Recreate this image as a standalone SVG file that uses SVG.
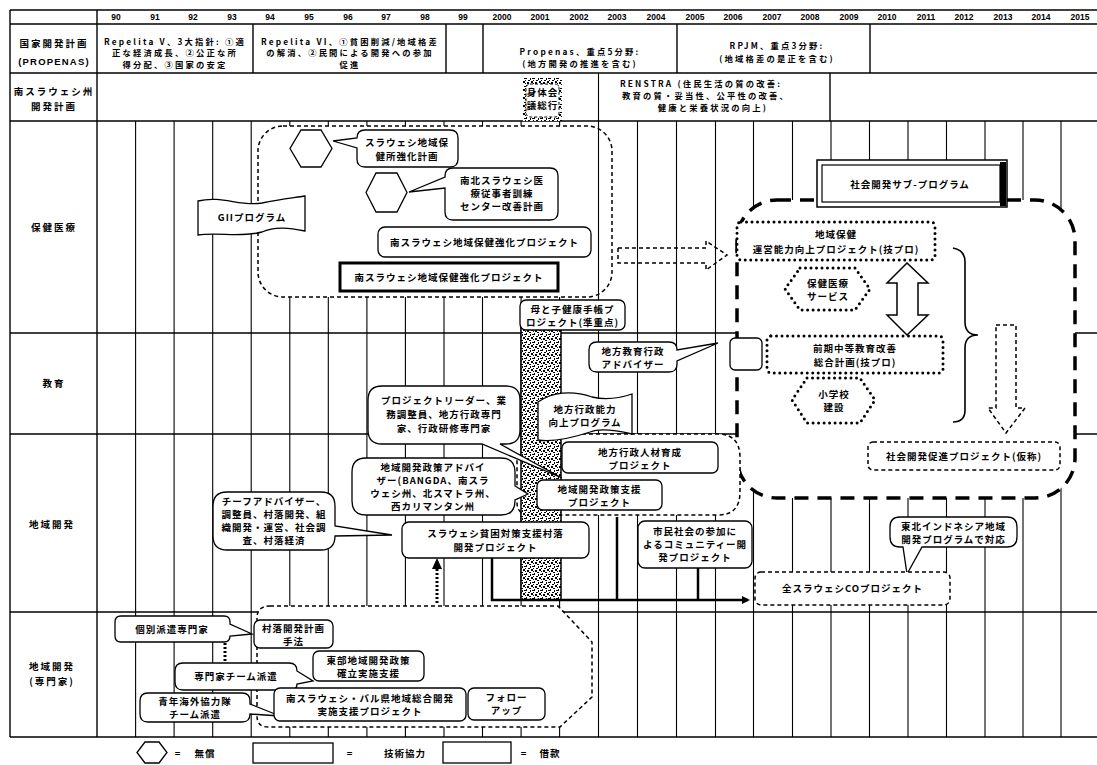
<svg xmlns="http://www.w3.org/2000/svg" width="1097" height="765" viewBox="0 0 1097 765">
<defs>
<style>
.t{font-family:"Noto Sans CJK JP","Noto Sans CJK SC",sans-serif;font-weight:700;font-size:9.5px;letter-spacing:1px;text-anchor:middle;fill:#000}
.p{font-family:"Noto Sans CJK JP","Noto Sans CJK SC",sans-serif;font-weight:700;font-size:8.3px;letter-spacing:2.2px;text-anchor:middle;fill:#000}
.lbl{font-family:"Noto Sans CJK JP",sans-serif;font-weight:700;font-size:9.5px;letter-spacing:2px;text-anchor:middle;fill:#000}
.yr{font-family:"Liberation Sans",Arial,sans-serif;font-weight:700;font-size:8.5px;text-anchor:middle;fill:#000}
.tl{stroke:#000;stroke-width:1.4;fill:none}
.grid{stroke:#000;stroke-width:1.1;fill:none}
.box{fill:#fff;stroke:#000;stroke-width:1.3}
.thick{fill:#fff;stroke:#000;stroke-width:3}
.dash{fill:#fff;stroke:#000;stroke-width:1.5;stroke-dasharray:4 3}
.dashn{fill:none;stroke:#000;stroke-width:1.5;stroke-dasharray:4 3}
.dot{fill:#fff;stroke:#000;stroke-width:3;stroke-dasharray:0 5.5;stroke-linecap:round}
.big{fill:#fff;stroke:#000;stroke-width:3.5;stroke-dasharray:14 9}
</style>
<pattern id="noise" width="8" height="8" patternUnits="userSpaceOnUse">
<rect width="8" height="8" fill="#fff"/>
<rect x="0" y="0" width="2" height="1" fill="#000"/>
<rect x="3" y="1" width="2" height="2" fill="#000"/>
<rect x="1" y="4" width="2" height="1" fill="#000"/>
<rect x="6" y="5" width="1" height="2" fill="#000"/>
<rect x="5" y="0" width="1" height="1" fill="#000"/>
<rect x="0" y="2" width="1" height="2" fill="#000"/>
<rect x="4" y="6" width="2" height="1" fill="#000"/>
<rect x="7" y="2" width="1" height="2" fill="#000"/>
<rect x="2" y="6" width="1" height="2" fill="#000"/>
<rect x="5" y="3" width="1" height="1" fill="#000"/>
</pattern>
<marker id="ah" markerWidth="8" markerHeight="8" refX="6" refY="4" orient="auto" markerUnits="userSpaceOnUse">
<path d="M0,0 L8,4 L0,8 Z" fill="#000"/>
</marker>
</defs>
<rect width="1097" height="765" fill="#fff"/>

<g id="table">
<line class="tl" x1="10" y1="10" x2="1097" y2="10" stroke-width="2"/>
<line class="tl" x1="10" y1="24" x2="1097" y2="24"/>
<line class="tl" x1="10" y1="73" x2="1097" y2="73"/>
<line class="tl" x1="10" y1="121" x2="1097" y2="121"/>
<line class="tl" x1="10" y1="333" x2="1097" y2="333"/>
<line class="tl" x1="10" y1="434" x2="1097" y2="434"/>
<line class="tl" x1="10" y1="612" x2="1097" y2="612"/>
<line class="tl" x1="10" y1="737" x2="1097" y2="737" stroke-width="2.5"/>
<line class="tl" x1="10" y1="10" x2="10" y2="737" stroke-width="1.8"/>
<line class="tl" x1="97" y1="10" x2="97" y2="737" stroke-width="1.8"/>
<line class="tl" x1="253" y1="24" x2="253" y2="73"/>
<line class="tl" x1="446" y1="24" x2="446" y2="73"/>
<line class="tl" x1="483" y1="24" x2="483" y2="73"/>
<line class="tl" x1="677" y1="24" x2="677" y2="73"/>
<line class="tl" x1="870" y1="24" x2="870" y2="73"/>
<line class="tl" x1="830" y1="73" x2="830" y2="121"/>
<g class="grid">
<line x1="135.6" y1="121" x2="135.6" y2="737"/><line x1="174.1" y1="121" x2="174.1" y2="737"/>
<line x1="212.7" y1="121" x2="212.7" y2="737"/><line x1="251.2" y1="121" x2="251.2" y2="737"/>
<line x1="289.8" y1="121" x2="289.8" y2="737"/><line x1="328.3" y1="121" x2="328.3" y2="737"/>
<line x1="366.9" y1="121" x2="366.9" y2="737"/><line x1="405.4" y1="121" x2="405.4" y2="737"/>
<line x1="444" y1="121" x2="444" y2="737"/><line x1="482.5" y1="121" x2="482.5" y2="737"/>
<line x1="521.1" y1="121" x2="521.1" y2="737"/><line x1="559.6" y1="121" x2="559.6" y2="737"/>
<line x1="598.5" y1="73" x2="598.5" y2="737"/><line x1="637.5" y1="121" x2="637.5" y2="737"/>
<line x1="676.5" y1="121" x2="676.5" y2="737"/><line x1="715.5" y1="121" x2="715.5" y2="737"/>
<line x1="753.5" y1="121" x2="753.5" y2="737"/><line x1="792.5" y1="121" x2="792.5" y2="737"/>
<line x1="831" y1="121" x2="831" y2="737"/><line x1="869.5" y1="121" x2="869.5" y2="737"/>
<line x1="908" y1="121" x2="908" y2="737"/><line x1="946.5" y1="121" x2="946.5" y2="737"/>
<line x1="985" y1="121" x2="985" y2="737"/><line x1="1023" y1="121" x2="1023" y2="737"/>
<line x1="1061" y1="121" x2="1061" y2="737"/>
</g>
<g class="yr">
<text x="116" y="20">90</text><text x="155" y="20">91</text><text x="193" y="20">92</text><text x="232" y="20">93</text>
<text x="270" y="20">94</text><text x="309" y="20">95</text><text x="348" y="20">96</text><text x="386" y="20">97</text>
<text x="425" y="20">98</text><text x="463" y="20">99</text><text x="502" y="20">2000</text><text x="540" y="20">2001</text>
<text x="579" y="20">2002</text><text x="617" y="20">2003</text><text x="656" y="20">2004</text><text x="695" y="20">2005</text>
<text x="733" y="20">2006</text><text x="772" y="20">2007</text><text x="810" y="20">2008</text><text x="849" y="20">2009</text>
<text x="887" y="20">2010</text><text x="926" y="20">2011</text><text x="964" y="20">2012</text><text x="1003" y="20">2013</text>
<text x="1041" y="20">2014</text><text x="1080" y="20">2015</text>
</g>
<text class="lbl"><tspan x="54" y="47">国家開発計画</tspan><tspan x="54" y="65" font-family="Liberation Sans,sans-serif" letter-spacing="1.2">(PROPENAS)</tspan></text>
<text class="lbl"><tspan x="54" y="95">南スラウェシ州</tspan><tspan x="54" y="110">開発計画</tspan></text>
<text class="lbl" x="54" y="231">保健医療</text>
<text class="lbl" x="54" y="387">教育</text>
<text class="lbl" x="52" y="528">地域開発</text>
<text class="lbl"><tspan x="52" y="670">地域開発</tspan><tspan x="52" y="685">(専門家)</tspan></text>
</g>

<g id="plan-texts">
<text class="p"><tspan x="175" y="44.5">Repelita V、3大指針: ①適</tspan><tspan x="175" y="56">正な経済成長、②公正な所</tspan><tspan x="175" y="67.5">得分配、③国家の安定</tspan></text>
<text class="p" letter-spacing="1.4"><tspan x="350" y="44.5">Repelita VI、①貧困削減/地域格差</tspan><tspan x="350" y="56">の解消、②民間による開発への参加</tspan><tspan x="350" y="67.5">促進</tspan></text>
<text class="p" font-size="9" letter-spacing="1.5"><tspan x="580" y="54.5">Propenas、重点5分野:</tspan><tspan x="580" y="67">(地方開発の推進を含む)</tspan></text>
<text class="p" font-size="9" letter-spacing="1.5"><tspan x="777" y="49">RPJM、重点3分野:</tspan><tspan x="777" y="61.5">(地域格差の是正を含む)</tspan></text>
<text class="p" font-size="8.5" letter-spacing="1.2"><tspan x="701" y="87">RENSTRA (住民生活の質の改善:</tspan><tspan x="706" y="99">教育の質・妥当性、公平性の改善、</tspan><tspan x="713" y="111">健康と栄養状況の向上)</tspan></text>
</g>

<g id="regions">
<rect id="gii-area" class="dash" x="258" y="126" width="354" height="171" rx="25"/>
<line class="grid" x1="598.5" y1="126" x2="598.5" y2="297"/>
<rect id="social-area" class="big" x="737" y="200" width="338" height="298" rx="40"/>
<path id="admin-area" class="dash" d="M575,434 H718 Q740,434 740,458 V492 Q740,515 718,515 H530 Q517,515 517,502 V460"/>
<path id="expert-area" class="dash" d="M270,606 H558 L592,642 V697 L560,727 H268 Q257,727 257,716 V618 Q257,606 270,606 Z"/>
</g>

<g id="strip">
<rect x="521" y="327" width="40" height="273" fill="url(#noise)" stroke="#000" stroke-width="1.5"/>
<rect x="523" y="78" width="39" height="43" fill="url(#noise)"/>
<rect x="526" y="84" width="33" height="33" rx="4" fill="#fff" stroke="#000" stroke-width="1" stroke-dasharray="3 2"/>
<text class="t" font-size="6.5" letter-spacing="0"><tspan x="542.5" y="96">身体会</tspan><tspan x="542.5" y="109">議総行</tspan></text>
</g>

<g id="connectors">
<path class="dashn" d="M618,248 H706 V241 L727,255 L706,270 V263 H618 Z"/>
<path d="M492,558 V600 H748" fill="none" stroke="#000" stroke-width="2.5" marker-end="url(#ah)"/>
<line x1="617" y1="517" x2="617" y2="600" stroke="#000" stroke-width="2.5"/>
<line x1="698" y1="567" x2="698" y2="600" stroke="#000" stroke-width="2.5"/>
<line x1="437" y1="603" x2="437" y2="568" stroke="#000" stroke-width="3" stroke-dasharray="2 2"/>
<path d="M432,569 L437,558 L442,569 Z" fill="#000"/>
<line x1="225" y1="643" x2="225" y2="662" stroke="#000" stroke-width="3" stroke-dasharray="2 2"/>
<path d="M907,263 L928,283 H918 V315 H928 L907,335 L887,315 H897 V283 H887 Z" fill="#fff" stroke="#000" stroke-width="1.5"/>
<path d="M953,248 Q965,250 965,262 V322 Q965,335 978,335 Q965,335 965,348 V410 Q965,422 953,422" fill="none" stroke="#000" stroke-width="1.6"/>
<path class="dashn" d="M996,325 H1016 V408 H1025 L1006,433 L988,408 H996 Z"/>
</g>

<g id="n-hex1"><polygon class="box" points="301,130 321,130 332,148.5 321,167 301,167 290,148.5"/></g>
<g id="n-hex2"><polygon class="box" points="376,173 397,173 407,192.5 397,212 376,212 366,192.5"/></g>
<g id="n-c1">
<path class="box" d="M365,130 H450 Q458,130 458,138 V159 Q458,167 450,167 H365 Q357,167 357,159 V148 L333,141 L357,138 Q357,130 365,130 Z"/>
<text class="t"><tspan x="407" y="146">スラウェシ地域保</tspan><tspan x="407" y="160">健所強化計画</tspan></text>
</g>
<g id="n-c2">
<path class="box" d="M453,168 H550 Q558,168 558,176 V212 Q558,220 550,220 H453 Q445,220 445,212 V188 L409,192 L445,177 V176 Q445,168 453,168 Z"/>
<text class="t"><tspan x="502" y="184">南北スラウェシ医</tspan><tspan x="502" y="197">療従事者訓練</tspan><tspan x="502" y="210">センター改善計画</tspan></text>
</g>
<g id="n-gii">
<path class="box" d="M198,201 C222,195 240,207 262,203 C280,199 292,198 305,196 L305,231 C290,228 275,226 262,232 C240,238 220,232 198,235 Z"/>
<text class="t" font-size="10.5" x="252" y="221">GIIプログラム</text>
</g>
<g id="n-hp1">
<rect class="box" x="378" y="227" width="213" height="30" rx="7"/>
<text class="t" x="484.5" y="246">南スラウェシ地域保健強化プロジェクト</text>
</g>
<g id="n-hp2">
<rect class="thick" x="340" y="263" width="218" height="28"/>
<text class="t" x="449" y="281">南スラウェシ地域保健強化プロジェクト</text>
</g>
<g id="n-mch">
<rect class="box" x="520" y="300" width="105" height="30" rx="6"/>
<text class="t" font-size="9" letter-spacing="0.5"><tspan x="572.5" y="313">母と子健康手帳プ</tspan><tspan x="572.5" y="326">ロジェクト(準重点)</tspan></text>
</g>

<g id="n-title">
<rect x="817" y="160" width="190" height="47" fill="#fff" stroke="#000" stroke-width="1.5"/>
<rect x="822" y="165" width="178" height="37" fill="#fff" stroke="#000" stroke-width="1.2"/>
<rect x="1000" y="162" width="6" height="44" fill="#000"/>
<text class="t" font-size="12.5" x="910" y="188">社会開発サブ-プログラム</text>
</g>
<g id="n-chp">
<rect class="dot" x="737" y="222" width="198" height="38" rx="4"/>
<text class="t"><tspan x="836" y="238">地域保健</tspan><tspan x="836" y="253">運営能力向上プロジェクト(技プロ)</tspan></text>
</g>
<g id="n-hs">
<polygon class="dot" points="800,268 855,268 870,289 855,310 800,310 785,289"/>
<text class="t"><tspan x="828" y="287">保健医療</tspan><tspan x="828" y="300">サービス</tspan></text>
</g>
<g id="n-sec">
<rect class="dot" x="767" y="336" width="176" height="37" rx="4"/>
<text class="t"><tspan x="855" y="352">前期中等教育改善</tspan><tspan x="855" y="366">総合計画(技プロ)</tspan></text>
</g>
<g id="n-smallbox"><rect class="box" x="730" y="338" width="32" height="32" rx="5"/></g>
<g id="n-ps">
<polygon class="dot" points="807,378 860,378 875,400 860,423 807,423 792,400"/>
<text class="t"><tspan x="834" y="398">小学校</tspan><tspan x="834" y="411">建設</tspan></text>
</g>
<g id="n-sdp">
<rect class="dash" x="868" y="442" width="192" height="28" rx="5"/>
<text class="t" x="964" y="460">社会開発促進プロジェクト(仮称)</text>
</g>

<g id="n-c3">
<path class="box" d="M597,342 H669 Q677,342 677,350 L718,343 L677,361 V364 Q677,372 669,372 H597 Q589,372 589,364 V350 Q589,342 597,342 Z"/>
<text class="t"><tspan x="633" y="355">地方教育行政</tspan><tspan x="633" y="368">アドバイザー</tspan></text>
</g>
<g id="n-flag2">
<path class="box" d="M538,402 C552,392 572,390 592,397 C605,400 620,398 632,394 L632,434 C615,430 600,428 590,432 C572,438 552,442 538,440 Z"/>
<text class="t"><tspan x="585" y="413">地方行政能力</tspan><tspan x="585" y="426">向上プログラム</tspan></text>
</g>
<g id="n-hr">
<rect class="box" x="562" y="442" width="156" height="31" rx="6"/>
<text class="t"><tspan x="640" y="456">地方行政人材育成</tspan><tspan x="640" y="469">プロジェクト</tspan></text>
</g>
<g id="n-rdp">
<rect class="box" x="537" y="480" width="125" height="30" rx="6"/>
<text class="t"><tspan x="599.5" y="493">地域開発政策支援</tspan><tspan x="599.5" y="506">プロジェクト</tspan></text>
</g>
<g id="n-c5">
<path class="box" d="M366,458 H501 Q515,458 515,472 V486 L528,494 L515,500 V501 Q515,515 501,515 H366 Q352,515 352,501 V472 Q352,458 366,458 Z"/>
<text class="t"><tspan x="433" y="471">地域開発政策アドバイ</tspan><tspan x="433" y="484">ザー(BANGDA、南スラ</tspan><tspan x="433" y="497">ウェシ州、北スマトラ州、</tspan><tspan x="433" y="510">西カリマンタン州</tspan></text>
</g>
<g id="n-c4">
<path class="box" d="M382,386 H506 Q520,386 520,400 V430 Q520,444 506,444 H500 L562,478 L482,444 H382 Q368,444 368,430 V400 Q368,386 382,386 Z"/>
<text class="t"><tspan x="444" y="404">プロジェクトリーダー、業</tspan><tspan x="444" y="418">務調整員、地方行政専門</tspan><tspan x="444" y="432">家、行政研修専門家</tspan></text>
</g>
<g id="n-c6">
<path class="box" d="M227,492 H321 Q335,492 335,506 V526 L392,535 L335,536 Q335,550 321,550 H227 Q213,550 213,536 V506 Q213,492 227,492 Z"/>
<text class="t"><tspan x="274" y="505">チーフアドバイザー、</tspan><tspan x="274" y="518">調整員、村落開発、組</tspan><tspan x="274" y="531">織開発・運営、社会調</tspan><tspan x="274" y="544">査、村落経済</tspan></text>
</g>
<g id="n-svd">
<rect class="box" x="402" y="522" width="187" height="36" rx="7"/>
<text class="t"><tspan x="495.5" y="537">スラウェシ貧困対策支援村落</tspan><tspan x="495.5" y="551">開発プロジェクト</tspan></text>
</g>
<g id="n-cdp">
<rect class="box" x="638" y="521" width="114" height="47" rx="7"/>
<text class="t"><tspan x="695" y="535">市民社会の参加に</tspan><tspan x="695" y="548">よるコミュニティー開</tspan><tspan x="695" y="561">発プロジェクト</tspan></text>
</g>
<g id="n-c7">
<path class="box" d="M900,517 H1007 Q1017,517 1017,527 V537 Q1017,547 1007,547 H922 L907,574 L903,547 H900 Q890,547 890,537 V527 Q890,517 900,517 Z"/>
<text class="t"><tspan x="953.5" y="530">東北インドネシア地域</tspan><tspan x="953.5" y="543">開発プログラムで対応</tspan></text>
</g>
<g id="n-co">
<rect class="dash" x="755" y="572" width="195" height="33" rx="6"/>
<text class="t" x="852.5" y="592">全スラウェシCOプロジェクト</text>
</g>

<g id="n-c8">
<path class="box" d="M121,616 H224 Q230,616 230,622 V624 L252,634 L230,636 Q230,642 224,642 H121 Q115,642 115,636 V622 Q115,616 121,616 Z"/>
<text class="t" x="172" y="633">個別派遣専門家</text>
</g>
<g id="n-vdm">
<rect class="box" x="254" y="620" width="79" height="28" rx="6"/>
<text class="t"><tspan x="293.5" y="632">村落開発計画</tspan><tspan x="293.5" y="645">手法</tspan></text>
</g>
<g id="n-c9">
<path class="box" d="M183,663 H289 Q297,663 297,671 L313,681 L297,684 Q297,690 291,690 H183 Q175,690 175,682 V671 Q175,663 183,663 Z"/>
<text class="t" x="236" y="680">専門家チーム派遣</text>
</g>
<g id="n-erd">
<rect class="box" x="313" y="651" width="111" height="30" rx="6"/>
<text class="t"><tspan x="368.5" y="664">東部地域開発政策</tspan><tspan x="368.5" y="677">確立実施支援</tspan></text>
</g>
<g id="n-c10">
<path class="box" d="M148,693 H242 Q250,693 250,701 V704 L280,716 L250,714 Q250,722 242,722 H148 Q140,722 140,714 V701 Q140,693 148,693 Z"/>
<text class="t"><tspan x="195" y="705">青年海外協力隊</tspan><tspan x="195" y="718">チーム派遣</tspan></text>
</g>
<g id="n-barru">
<rect class="box" x="274" y="688" width="192" height="33" rx="6"/>
<text class="t"><tspan x="370" y="702">南スラウェシ・バル県地域総合開発</tspan><tspan x="370" y="715">実施支援プロジェクト</tspan></text>
</g>
<g id="n-fu">
<rect class="box" x="468" y="688" width="77" height="32" rx="6"/>
<text class="t"><tspan x="506.5" y="701">フォロー</tspan><tspan x="506.5" y="714">アップ</tspan></text>
</g>

<g id="legend">
<polygon class="box" points="145,742 159,742 167,752.5 159,763 145,763 137,752.5"/>
<text class="t" x="178" y="757">=</text>
<text class="t" x="205" y="757">無償</text>
<rect class="box" x="253" y="743" width="80" height="20"/>
<text class="t" x="350" y="757">=</text>
<text class="t" x="405" y="757">技術協力</text>
<rect class="box" x="443" y="742" width="68" height="21" stroke-width="2.5"/>
<text class="t" x="524" y="757">=</text>
<text class="t" x="550" y="757">借款</text>
</g>
</svg>
